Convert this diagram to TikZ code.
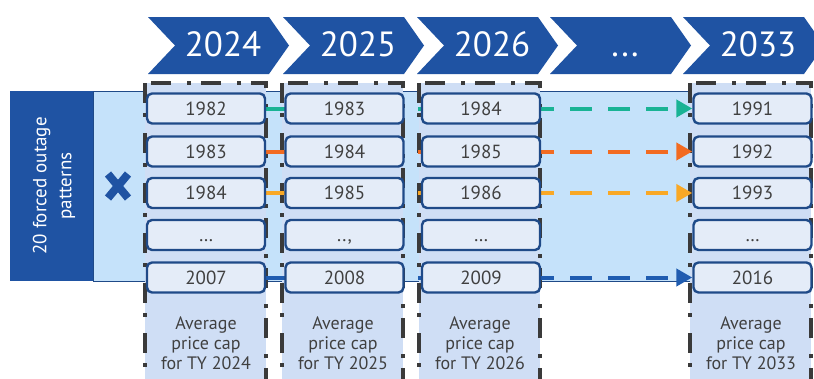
\documentclass[tikz,border=0pt]{standalone}
\usepackage{fontspec}
\setmainfont{PT Sans}
\usetikzlibrary{arrows.meta}
\definecolor{navy}{HTML}{1F53A3}
\definecolor{bandc}{HTML}{C5E2FA}
\definecolor{colfill}{HTML}{CFDEF5}
\definecolor{boxfill}{HTML}{E4ECF8}
\definecolor{boxline}{HTML}{1F4A88}
\definecolor{txtc}{HTML}{404040}
\definecolor{bordc}{HTML}{3A3A3A}
\definecolor{cteal}{HTML}{19B394}
\definecolor{corange}{HTML}{F26B21}
\definecolor{camber}{HTML}{F9A825}
\definecolor{cblue}{HTML}{1F5CB0}
\newcommand{\chevdots}{...}
\pgfdeclarelayer{bg}
\pgfdeclarelayer{mid}
\pgfsetlayers{bg,mid,main}
\tikzset{
  chevtext/.style={anchor=base, text=white, font=\fontsize{35}{40}\selectfont, inner sep=0pt},
  rowbox/.style={draw=boxline, line width=2.4pt, fill=boxfill, rounded corners=5pt,
    minimum width=118pt, minimum height=30pt, inner sep=0pt, text=txtc,
    font=\fontsize{19}{22}\selectfont, text height=13.5pt, text depth=0pt},
  captext/.style={align=center, text=txtc, font=\fontsize{18}{20}\selectfont, inner sep=0pt},
  colbox/.style={draw=bordc, line width=3.5pt, fill=colfill,
    dash pattern=on 20pt off 10pt on 4pt off 16pt},
  flow/.style={line width=4pt, dash pattern=on 22pt off 16pt,
    -{Triangle[length=16pt,width=17pt]}},
}
\begin{document}
\begin{tikzpicture}[x=1pt,y=-1pt]
\useasboundingbox (0,0) rectangle (814,378);
\begin{pgfonlayer}{bg}
\fill[white] (0,0) rectangle (814,378);
% chevrons
\foreach \L/\t [count=\i] in {148/2024,283/2025,417/2026,550/\chevdots,683/2033}{
  \fill[navy] (\L,17) -- ++(121,0) -- ++(20,28.5) -- ++(-20,28.5) -- ++(-121,0) -- ++(27,-28.5) -- cycle;
  \node[chevtext] (y\i) at (\L+75,56) {\t};
}
% left box
\fill[navy] (10,91) rectangle (93,281);
% band
\draw[boxline, line width=0.8pt, fill=bandc] (93,91) rectangle (692,281);
% columns
\foreach \cx in {206,343,480,751}{
  \draw[colbox] (\cx-61,83) rectangle (\cx+60,400);
}
\end{pgfonlayer}
\node[rotate=90, align=center, text=white, font=\fontsize{19}{25}\selectfont] (ltext) at (54,186) {20 forced outage\\patterns};
% X mark
\draw[navy, line width=8pt] (108,174) -- (128,198) (128,174) -- (108,198);
% row boxes
\node[rowbox] (b11) at (206,108.5) {1982};
\node[rowbox] (b12) at (206,151.5) {1983};
\node[rowbox] (b13) at (206,193) {1984};
\node[rowbox] (b14) at (206,235) {…};
\node[rowbox] (b15) at (206,277.5) {2007};
\node[rowbox] (b21) at (344.5,108.5) {1983};
\node[rowbox] (b22) at (344.5,151.5) {1984};
\node[rowbox] (b23) at (344.5,193) {1985};
\node[rowbox] (b24) at (344.5,235) {..,};
\node[rowbox] (b25) at (344.5,277.5) {2008};
\node[rowbox] (b31) at (481,108.5) {1984};
\node[rowbox] (b32) at (481,151.5) {1985};
\node[rowbox] (b33) at (481,193) {1986};
\node[rowbox] (b34) at (481,235) {…};
\node[rowbox] (b35) at (481,277.5) {2009};
\node[rowbox] (b41) at (752.5,108.5) {1991};
\node[rowbox] (b42) at (752.5,151.5) {1992};
\node[rowbox] (b43) at (752.5,193) {1993};
\node[rowbox] (b44) at (752.5,235) {…};
\node[rowbox] (b45) at (752.5,277.5) {2016};
% arrows
\begin{pgfonlayer}{mid}
\draw[flow, cteal] (b11.east) -- (b41.west);
\draw[flow, corange] (b12.east) -- (b42.west);
\draw[flow, camber] (b13.east) -- (b43.west);
\draw[flow, cblue] (b15.east) -- (b45.west);
\end{pgfonlayer}
% captions
\node[captext] (c1) at (206,343.5) {Average\\price cap\\for TY 2024};
\node[captext] (c2) at (343,343.5) {Average\\price cap\\for TY 2025};
\node[captext] (c3) at (480,343.5) {Average\\price cap\\for TY 2026};
\node[captext] (c4) at (751,343.5) {Average\\price cap\\for TY 2033};
\end{tikzpicture}
\end{document}
